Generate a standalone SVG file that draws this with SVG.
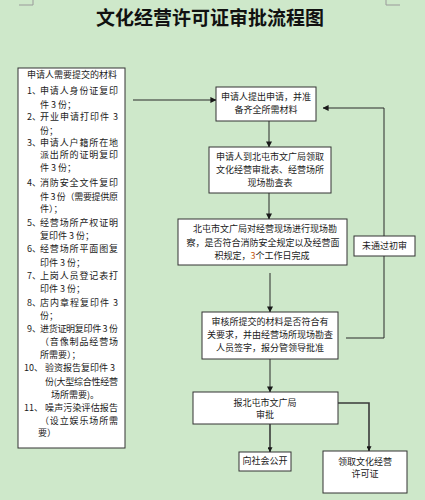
<svg xmlns="http://www.w3.org/2000/svg" width="425" height="500" viewBox="0 0 425 500">
<defs>
<style>
.t{font-family:"Noto Sans CJK SC","Liberation Sans",sans-serif;font-size:9px;fill:#1a1a1a}
.c{text-anchor:middle}
.box{fill:#ffffff;stroke:#333;stroke-width:1}
.ln{fill:none;stroke:#2a2a2a;stroke-width:1}
.lt{fill:none;stroke:#3a3a3a;stroke-width:1.6}
.mk{fill:none;stroke:#9a9a9a;stroke-width:1}
</style>
<marker id="ah" viewBox="0 0 8 8" refX="7.5" refY="4" markerWidth="6" markerHeight="6" markerUnits="userSpaceOnUse" orient="auto">
<path d="M0,0 L8,4 L0,8 Z" fill="#1a1a1a"/>
</marker>
<marker id="ah2" viewBox="0 0 8 8" refX="7.5" refY="4" markerWidth="5" markerHeight="5" markerUnits="userSpaceOnUse" orient="auto">
<path d="M0,0 L8,4 L0,8 Z" fill="#1a1a1a"/>
</marker>
</defs>
<rect x="0" y="0" width="425" height="500" fill="#cee8ca"/>
<path class="mk" d="M19,5 H33 V0 M386,0 V5 H400"/>
<text x="210" y="25" text-anchor="middle" style="font-family:'Noto Sans CJK SC',sans-serif;font-size:19px;font-weight:bold;fill:#111">文化经营许可证审批流程图</text>

<g id="materials">
<rect class="box" x="18" y="68" width="107" height="380"/>
<text class="t" x="27" y="78">申请人需要提交的材料</text>
<text class="t" x="27" y="94">1、</text><text class="t" x="40" y="94" textLength="78" lengthAdjust="spacing">申请人身份证复印</text>
<text class="t" x="40" y="108">件 3 份；</text>
<text class="t" x="27" y="120">2、</text><text class="t" x="40" y="120" textLength="78" lengthAdjust="spacing">开业申请打印件 3</text>
<text class="t" x="40" y="134">份；</text>
<text class="t" x="27" y="146">3、</text><text class="t" x="40" y="146" textLength="78" lengthAdjust="spacing">申请人户籍所在地</text>
<text class="t" x="40" y="158" textLength="78" lengthAdjust="spacing">派出所的证明复印</text>
<text class="t" x="40" y="171">件 3 份；</text>
<text class="t" x="27" y="186">4、</text><text class="t" x="40" y="186" textLength="78" lengthAdjust="spacing">消防安全文件复印</text>
<text class="t" x="40" y="200" textLength="78" lengthAdjust="spacing">件 3 份（需要提供原</text>
<text class="t" x="40" y="212">件）；</text>
<text class="t" x="27" y="226">5、</text><text class="t" x="40" y="226" textLength="78" lengthAdjust="spacing">经营场所产权证明</text>
<text class="t" x="40" y="239">复印件 3 份；</text>
<text class="t" x="27" y="252">6、</text><text class="t" x="40" y="252" textLength="78" lengthAdjust="spacing">经营场所平面图复</text>
<text class="t" x="40" y="266">印件 3 份；</text>
<text class="t" x="27" y="279">7、</text><text class="t" x="40" y="279" textLength="78" lengthAdjust="spacing">上岗人员登记表打</text>
<text class="t" x="40" y="292">印件 3 份；</text>
<text class="t" x="27" y="306">8、</text><text class="t" x="40" y="306" textLength="78" lengthAdjust="spacing">店内章程复印件 3</text>
<text class="t" x="40" y="319">份；</text>
<text class="t" x="27" y="332">9、</text><text class="t" x="40" y="332" textLength="78" lengthAdjust="spacing">进货证明复印件 3 份</text>
<text class="t" x="40" y="345" textLength="78" lengthAdjust="spacing">（音像制品经营场</text>
<text class="t" x="40" y="358">所需要）；</text>
<text class="t" x="24" y="371">10、</text><text class="t" x="45" y="371">验资报告复印件 3</text>
<text class="t" x="45" y="385" textLength="73" lengthAdjust="spacing">份(大型综合性经营</text>
<text class="t" x="51" y="398">场所需要)。</text>
<text class="t" x="24" y="411">11、</text><text class="t" x="45" y="411" textLength="73" lengthAdjust="spacing">噪声污染评估报告</text>
<text class="t" x="40" y="424" textLength="78" lengthAdjust="spacing">（设立娱乐场所需</text>
<text class="t" x="38" y="436">要）</text>
</g>

<g id="apply">
<rect class="box" x="216" y="87" width="100" height="34"/>
<text class="t c" x="266" y="100">申请人提出申请，并准</text>
<text class="t c" x="266" y="113">备齐全所需材料</text>
</g>

<g id="collect">
<rect class="box" x="209" y="147" width="122" height="46"/>
<text class="t c" x="270" y="160">申请人到北屯市文广局领取</text>
<text class="t c" x="270" y="173">文化经营审批表、经营场所</text>
<text class="t c" x="270" y="186">现场勘查表</text>
</g>

<g id="inspect">
<rect class="box" x="178" y="219" width="169" height="46"/>
<text class="t c" x="265" y="232">北屯市文广局对经营现场进行现场勘</text>
<text class="t c" x="263" y="246">察，是否符合消防安全规定以及经营面</text>
<text class="t c" x="262" y="259">积规定，<tspan fill="#c55a11">3</tspan>个工作日完成</text>
</g>

<g id="review">
<rect class="box" x="202" y="312" width="136" height="47"/>
<text class="t c" x="270" y="325">审核所提交的材料是否符合有</text>
<text class="t c" x="270" y="338">关要求，并由经营场所现场勘查</text>
<text class="t c" x="270" y="351">人员签字，报分管领导批准</text>
</g>

<g id="approve">
<rect class="box" x="193" y="392" width="145" height="32"/>
<text class="t c" x="265" y="406">报北屯市文广局</text>
<text class="t c" x="265" y="418">审批</text>
</g>

<g id="publish">
<rect class="box" x="239" y="452" width="52" height="19"/>
<text class="t c" x="265" y="464">向社会公开</text>
</g>

<g id="license">
<rect class="box" x="323" y="451" width="84" height="42"/>
<text class="t c" x="365" y="465">领取文化经营</text>
<text class="t c" x="365" y="477">许可证</text>
</g>

<g id="rejected">
<rect class="box" x="354" y="236" width="61" height="20"/>
<text class="t c" x="384.5" y="249">未通过初审</text>
</g>

<g id="connectors">
<line class="ln" x1="133" y1="100" x2="216" y2="100" marker-end="url(#ah)"/>
<line class="ln" x1="269" y1="121" x2="269" y2="147" marker-end="url(#ah)"/>
<line class="ln" x1="269" y1="193" x2="269" y2="219" marker-end="url(#ah)"/>
<line class="ln" x1="270" y1="273" x2="270" y2="312" marker-end="url(#ah)"/>
<line class="ln" x1="270" y1="359" x2="270" y2="392" marker-end="url(#ah)"/>
<line class="lt" x1="270" y1="424" x2="270" y2="452" marker-end="url(#ah2)"/>
<polyline class="lt" points="338,403 369,403 369,451" marker-end="url(#ah2)"/>
<polyline class="ln" points="346,338 384,338 384,256"/>
<polyline class="ln" points="384,236 384,108 323,108" marker-end="url(#ah)"/>
</g>
</svg>
